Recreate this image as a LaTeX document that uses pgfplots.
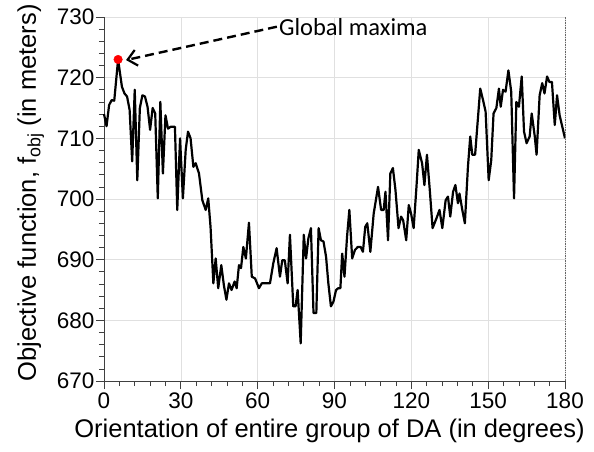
\documentclass[border=0pt]{standalone}
\usepackage{pgfplots}
\pgfplotsset{compat=1.18}
\usepackage{fontspec}
\setmainfont{Liberation Sans}
\newfontfamily\calibri{Carlito}
\usetikzlibrary{arrows.meta}
\begin{document}
\begin{tikzpicture}
\useasboundingbox (-104pt,-70pt) rectangle (490pt,381pt);
\begin{axis}[
  at={(0,0)}, anchor=south west,
  scale only axis, width=461pt, height=364pt,
  xmin=0, xmax=180, ymin=670, ymax=730,
  xtick={0,30,...,180}, ytick={670,680,...,730},
  minor x tick num=4, minor y tick num=4,
  axis x line*=bottom, axis y line*=left,
  axis line style={line width=0.8pt, draw=black!75, -},
  tick align=outside,
  major tick length=8pt, minor tick length=5pt,
  tick style={line width=0.7pt, black!75},
  grid=major, grid style={line width=0.6pt, black!12},
  xticklabel style={font=\fontsize{22.5}{26}\selectfont},
  yticklabel style={font=\fontsize{22.5}{26}\selectfont, xshift=2pt},
  /pgf/number format/assume math mode=true,
  /pgf/number format/1000 sep={},
  xlabel={Orientation of entire group of DA (in degrees)},
  ylabel={Objective function, f\textsubscript{obj} (in meters)},
  every axis x label/.style={at={(rel axis cs:0.5,0)}, anchor=base, yshift=-56pt, xshift=-5pt, font=\fontsize{25.5}{30}\selectfont},
  every axis y label/.style={at={(rel axis cs:0,0.5)}, anchor=base, rotate=90, yshift=68pt, xshift=6pt, font=\fontsize{25.5}{30}\selectfont},
  clip=false,
]
\addplot[black, line width=2.2pt, line join=round] table {
x y
0 714
1 712
2 715.5
3 716.3
4 716.2
5.5 723
7 718.5
8 717.4
9 716.9
10 714.7
11 706.2
12 718
13 703.1
14 715
15 717.1
16 716.9
17 715.2
18 711.4
19 715
20 714.1
21 700.1
22 716
23 704.2
24 713.8
25 711.6
26 711.9
27.7 711.9
28.6 698.2
29.7 710
30.8 700.1
31.9 708.1
32.8 711.1
33.8 710
34.9 705.3
35.8 705.9
37.1 704.2
38.4 699.8
39.7 698.2
40.7 700.1
41.6 695.4
42.7 686.1
43.6 690.2
44.6 685.3
45.8 689.1
46.8 685.8
47.8 683.4
48.8 686.1
49.8 685
51 686.4
51.8 685.3
52.7 689.1
53.5 688.6
54.4 692.1
55.4 690.2
56.6 696.1
57.7 687.2
59 686.9
60.5 685.3
61.6 686.1
62.9 686.1
64.8 686.1
66.1 689.4
67.4 691.9
68.7 687.2
69.6 689.9
70.6 689.9
71.7 686.1
72.6 694.1
73.9 682.3
74.8 682.3
75.6 685
76.8 676.2
78 694.1
78.9 690.2
79.8 693.5
80.8 695.2
81.8 681.2
82.9 681.2
83.8 695.2
84.7 693.2
85.7 693
86.7 690.5
87.6 686.1
88.6 682.3
89.6 683.1
90.6 685
91.5 685.3
92.3 685.3
93 691
93.9 687.2
94.9 693.8
95.8 698.2
96.9 690.2
98 691.6
99.1 692.1
100.2 692.1
101.1 691.3
102 695.4
102.8 696
104 691.3
105.3 697.6
107 702
108.2 698.2
109.2 698.2
109.9 701.2
110.9 693.2
111.8 704.2
112.8 705.1
113.8 701.5
115 695.2
116 697.1
116.8 696.5
118 693.2
119 699
119.9 697.6
120.9 695.2
122 702
122.9 708.1
124.2 705.9
125.1 702.3
126.1 707.3
127.2 701.5
128.3 695.2
129.8 696.8
131 698.2
132.1 695.2
133.4 699.8
134.3 700.4
135.2 697.1
136.3 701.2
137.2 702.3
138.2 699.3
138.8 700.9
139.9 698.2
140.9 696
142.1 705.3
143 710.3
143.8 707.3
144.9 707.3
146 713.3
146.9 718.2
148 716.3
149 714.4
150.2 703.1
151.2 706.4
152.1 714.1
153.2 715
154.2 718.2
154.9 715.2
155.8 718
156.8 717.7
157.9 721.2
159 717.7
160.1 700.1
161 716
162 715.2
163.1 720.2
164 711.1
165 709.2
166.2 710.3
167 714.1
168.2 710.3
168.9 707.3
170.1 717.1
171.1 719.1
172 717.4
173 720.2
173.9 719.3
174.9 719.3
176 712.2
176.9 717.1
177.9 713.8
180 710
};
\addplot[only marks, mark=*, mark size=4.3pt, red, mark options={fill=red, draw=red}] coordinates {(5.5,723)};
\draw[densely dotted, line width=0.7pt, black!60] (axis cs:180,670) -- (axis cs:180,730);
\draw[line width=2.4pt, dash pattern=on 9pt off 5pt, -{Straight Barb[length=9pt,width=16pt,line width=2.2pt]}] (axis cs:67.5,728.4) -- (axis cs:8.6,722.9);
\node[anchor=west, inner sep=0pt, font=\calibri\fontsize{24.5}{28}\selectfont] at (axis cs:68.3,728.3) {Global maxima};
\end{axis}
\end{tikzpicture}
\end{document}
